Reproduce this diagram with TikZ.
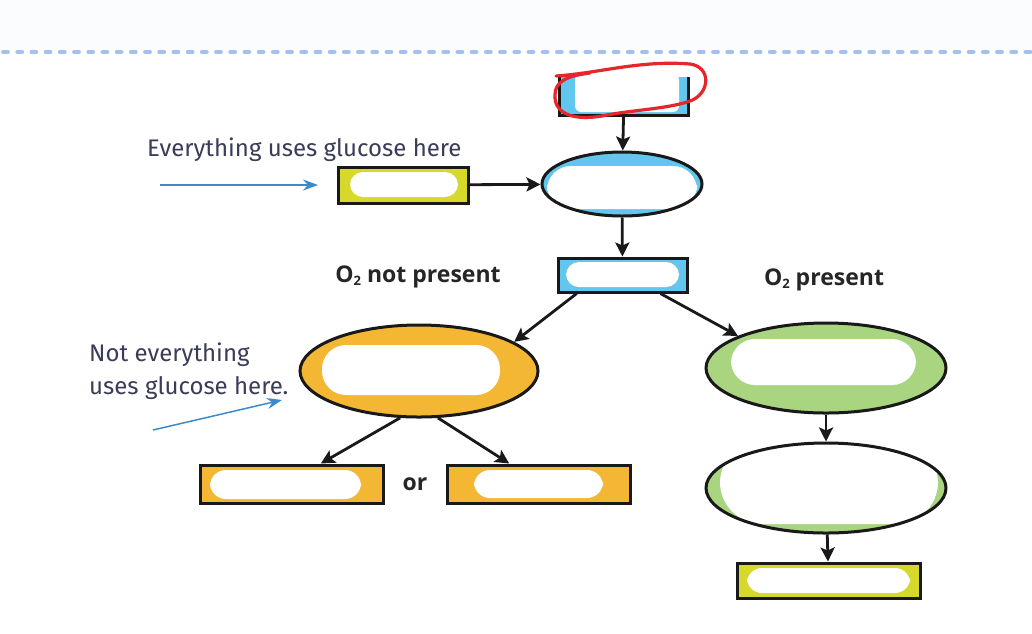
\documentclass[tikz,border=0pt]{standalone}
\usepackage{fontspec}
\setmainfont{Open Sans}
\newfontfamily\notefont{Fira Sans}
\usetikzlibrary{arrows.meta,shapes.geometric,calc}
\definecolor{cblue}{HTML}{62C6EE}
\definecolor{cyellow}{HTML}{D6D82B}
\definecolor{corange}{HTML}{F3B733}
\definecolor{cgreen}{HTML}{A9D580}
\definecolor{cnote}{HTML}{3C8AC9}
\definecolor{cnotetext}{HTML}{3A3C58}
\definecolor{cdash}{HTML}{A3C0EF}
\definecolor{cred}{HTML}{E5262B}
\definecolor{ctopbg}{HTML}{FBFCFE}
\tikzset{
  outline/.style={draw=black!90, line width=3pt},
  boxnode/.style={rectangle, outline, inner sep=0pt},
  ellnode/.style={ellipse, outline, inner sep=0pt},
  blob/.style n args={5}{path picture={\fill[white, rounded corners=#5]
     ([shift={(#1,#2)}]path picture bounding box.north west) rectangle
     ([shift={(-#3,-#4)}]path picture bounding box.south east);}},
  arr/.style={draw=black!90, line width=2.8pt, -{Stealth[length=14pt,width=14pt,inset=3pt]}},
  notearr/.style={draw=cnote, line width=1.5pt, -{Stealth[length=15pt,width=11pt]}},
  notetext/.style={text=cnotetext, font=\notefont\fontsize{24}{33}\selectfont, inner sep=0pt},
  cond/.style={font=\bfseries\fontsize{23}{26}\selectfont, text=black!85, inner sep=0pt},
}
\begin{document}
\begin{tikzpicture}[x=1pt,y=-1pt]
\useasboundingbox (0,0) rectangle (1032,633);
\fill[white] (0,0) rectangle (1032,633);
\fill[ctopbg] (0,0) rectangle (1032,50);
\draw[cdash, line width=3.8pt, line cap=round, dash pattern=on 5pt off 9.2pt] (3,52) -- (1032,52);

% top box (top edge whited out)
\node[rectangle, fill=cblue, inner sep=0pt, minimum width=128pt, minimum height=38pt,
      blob={15}{-3}{9}{3}{6}] (top) at (624,96) {};
\draw[black!90, line width=3pt] (top.north west) -- (top.south west) -- (top.south east) -- (top.north east);
\draw[cred, line width=3.2pt, line cap=round]
  (556,76) .. controls (600,73) and (640,60) .. (690,64)
  .. controls (712,67) and (710,94) .. (690,101)
  .. controls (668,109) and (630,110) .. (602,116)
  .. controls (572,121) and (554,113) .. (555,95)
  .. controls (555,82) and (566,76) .. (590,73);

% blue ellipse
\node[ellnode, fill=cblue, minimum width=160pt, minimum height=64pt,
      blob={5}{14}{5}{7}{24}] (glyc) at (622,184) {};
% second blue box
\node[boxnode, fill=cblue, minimum width=129pt, minimum height=34pt,
      blob={8}{4}{8}{5}{13}] (pyr) at (622.5,275) {};
% yellow box left
\node[boxnode, fill=cyellow, minimum width=130pt, minimum height=36pt,
      blob={12}{5}{10}{6}{13}] (glu) at (403,185) {};

% orange branch
\node[ellnode, fill=corange, minimum width=238pt, minimum height=92pt,
      blob={22}{20}{38}{22}{24}] (ferm) at (419,371) {};
\node[boxnode, fill=corange, minimum width=183pt, minimum height=38pt,
      blob={10}{5}{22}{4}{16}] (lac) at (291.5,484) {};
\node[boxnode, fill=corange, minimum width=183pt, minimum height=38pt,
      blob={27}{5}{27}{5}{16}] (eth) at (538.5,484) {};
\node[cond] (or) at (415,484) {or};

% green branch
\node[ellnode, fill=cgreen, minimum width=240pt, minimum height=90pt,
      blob={25}{16}{30}{28}{24}] (krebs) at (826,368) {};
\node[ellnode, fill=cgreen, minimum width=240pt, minimum height=90pt,
      blob={14}{-2}{8}{9}{42}] (etc) at (826,488) {};
\node[boxnode, fill=cyellow, minimum width=183pt, minimum height=35pt,
      blob={10}{5}{10}{5}{15}] (atp) at (828.5,580.5) {};

% labels
\node[cond] (nolab) at (418,277) {O\raisebox{-3pt}{\fontsize{13}{14}\selectfont 2} not present};
\node[cond] (yeslab) at (824,280) {O\raisebox{-3pt}{\fontsize{13}{14}\selectfont 2} present};

% connectors
\draw[arr] (top) -- (glyc);
\draw[arr] (glyc) -- (pyr);
\draw[arr] (glu) -- (glyc);
\draw[arr] (pyr.202) -- (ferm.17);
\draw[arr] (pyr.334) -- (krebs.160);
\draw[arr] (ferm.248) -- (lac.35);
\draw[arr] (ferm.292) -- (eth.145);
\draw[arr] (krebs) -- (etc);
\draw[arr] (etc) -- (atp);

% annotations
\node[notetext, anchor=west] (note1) at (147,150) {Everything uses glucose here};
\coordinate (n1s) at (160,185);
\coordinate (n1e) at (318,185);
\draw[notearr] (n1s) -- (n1e);
\node[notetext, anchor=west, align=left] (note2) at (89,371) {Not everything\\uses glucose here.};
\coordinate (n2s) at (153,430);
\coordinate (n2e) at (282,400);
\draw[notearr] (n2s) -- (n2e);
\end{tikzpicture}
\end{document}
